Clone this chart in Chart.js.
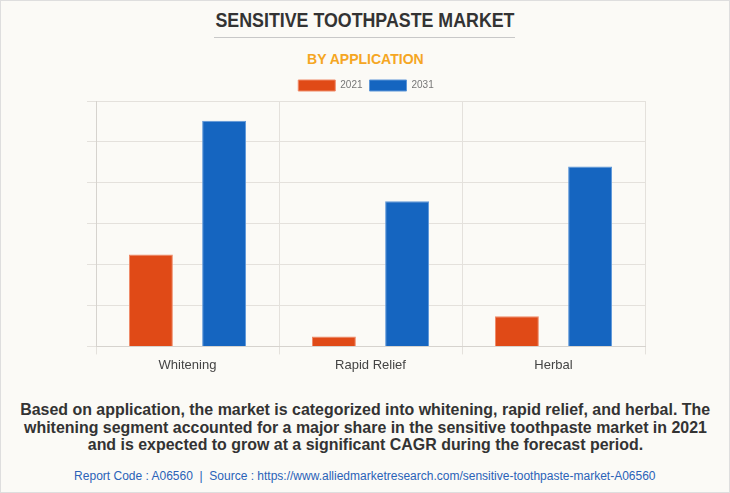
<!DOCTYPE html>
<html>
<head>
<meta charset="utf-8">
<script src="https://cdn.jsdelivr.net/npm/chart.js@4.4.0/dist/chart.umd.min.js"></script>
<style>
  html, body { margin: 0; padding: 0; }
  body { width: 730px; height: 493px; background: #fbfaf6; position: relative; overflow: hidden;
         font-family: "Liberation Sans", Arial, sans-serif; }
  .frame { position: absolute; left: 0; top: 0; width: 728px; height: 491px; border: 1px solid #dedede; }
  .line { position: absolute; left: 0; width: 730px; text-align: center; white-space: nowrap; }
  .line span { display: inline-block; transform-origin: center; }
  .title { top: 9px; font-weight: bold; font-size: 20px; color: #333; }
  .title span { transform: scaleX(0.89); }
  .rule { position: absolute; top: 37px; left: 214px; width: 301px; height: 1px; background: #c8c8c8; }
  .sub { top: 50px; font-weight: bold; font-size: 15px; color: #f5a623; }
  .sub span { transform: scaleX(0.935); }
  .note { font-weight: bold; font-size: 16.5px; line-height: 17.5px; color: #333; }
  .note span { transform: scaleX(0.966); }
  .src { top: 469px; font-size: 12.5px; color: #2a62b8; }
  .src span { transform: scaleX(0.96); }
  #wrap { position: absolute; left: 0; top: 73px; width: 730px; height: 303px; }
</style>
</head>
<body>
<div class="frame"></div>
<div class="line title"><span>SENSITIVE TOOTHPASTE MARKET</span></div>
<div class="rule"></div>
<div class="line sub"><span>BY APPLICATION</span></div>
<div id="wrap"><canvas id="chart"></canvas></div>
<div class="line note" style="top:401px"><span>Based on application, the market is categorized into whitening, rapid relief, and herbal. The</span></div>
<div class="line note" style="top:418.5px"><span>whitening segment accounted for a major share in the sensitive toothpaste market in 2021</span></div>
<div class="line note" style="top:436px"><span>and is expected to grow at a significant CAGR during the forecast period.</span></div>
<div class="line src"><span>Report Code : A06560&nbsp; | &nbsp;Source : https://www.alliedmarketresearch.com/sensitive-toothpaste-market-A06560</span></div>

<script>
const categories = ['Whitening', 'Rapid Relief', 'Herbal'];
const values2021 = [225, 24.5, 74];
const values2031 = [552, 355, 440];
const yTicks = [0, 100, 200, 300, 400, 500, 600];

document.addEventListener('DOMContentLoaded', function () {
    const gridColor = '#e4e1dc';

    new Chart(document.getElementById('chart'), {
        type: 'bar',
        data: {
            labels: categories,
            datasets: [{
                label: '2021',
                data: values2021,
                backgroundColor: '#e04a17',
                borderColor: '#ef8a68',
                borderWidth: 1,
                categoryPercentage: 0.8,
                barPercentage: 0.6
            }, {
                label: '2031',
                data: values2031,
                backgroundColor: '#1565c0',
                borderColor: '#5e97d8',
                borderWidth: 1,
                categoryPercentage: 0.8,
                barPercentage: 0.6
            }]
        },
        options: {
            responsive: true,
            maintainAspectRatio: false,
            animation: false,
            layout: { padding: { left: 87, right: 85, top: 0, bottom: 0 } },
            plugins: {
                legend: {
                    position: 'top',
                    labels: {
                        boxWidth: 37,
                        boxHeight: 11,
                        padding: 7,
                        color: '#777',
                        font: { family: 'Liberation Sans, Arial', size: 10 }
                    }
                },
                tooltip: { enabled: false }
            },
            scales: {
                x: {
                    grid: { color: gridColor, tickLength: 8, offset: true },
                    border: { color: '#d6d3ce' },
                    ticks: { color: '#444', padding: 3, font: { family: 'Liberation Sans, Arial', size: 13 } }
                },
                y: {
                    min: yTicks[0],
                    max: yTicks[yTicks.length - 1],
                    afterBuildTicks: (axis) => { axis.ticks = yTicks.map(v => ({ value: v })); },
                    grid: { color: gridColor, tickLength: 9 },
                    border: { color: '#d6d3ce' },
                    ticks: { display: false }
                }
            }
        }
    });
});
</script>
</body>
</html>
